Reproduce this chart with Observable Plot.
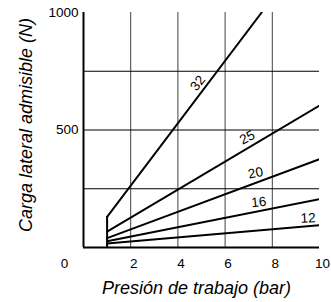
<!DOCTYPE html>
<html><head><meta charset="utf-8">
<script src="https://cdn.jsdelivr.net/npm/d3@7"></script>
<script src="https://cdn.jsdelivr.net/npm/@observablehq/plot@0.6"></script>
<style>body{margin:0;background:#fff} svg{display:block}</style>
</head><body><div id="chart"></div>
<script>
// Data
const seriesNames = ["32", "25", "20", "16", "12"];
const startPressure = [1, 1, 1, 1, 1];
const startLoad = [130, 68, 40, 27, 17];
const endPressure = [7.55, 10, 10, 10, 10];
const endLoad = [1000, 604, 376, 206, 95];
const xTicks = [2, 4, 6, 8, 10];
const xZeroTick = [0];
const yTicks = [500, 1000];
const xGrid = [2, 4, 6, 8];
const yGrid = [250, 500, 750];
const xTitle = "Presión de trabajo (bar)";
const yTitle = "Carga lateral admisible (N)";

const rows = seriesNames.flatMap((s, i) => [
  {s, p: startPressure[i], f: startLoad[i]},
  {s, p: endPressure[i], f: endLoad[i]}
]);

// label placement styling (position along each line, offset, rotation)
const labelStyle = {
  "32": {at: 4.84, dx: 0, dy: -14, rotate: -52},
  "25": {at: 6.94, dx: 0, dy: -11, rotate: -27},
  "20": {at: 7.29, dx: 0, dy: -10, rotate: -12},
  "16": {at: 7.43, dx: 0, dy: -9, rotate: -6},
  "12": {at: 9.52, dx: 0, dy: -8, rotate: -2}
};
const loadAt = (i, p) => startLoad[i] + (p - startPressure[i]) * (endLoad[i] - startLoad[i]) / (endPressure[i] - startPressure[i]);

const font = "Liberation Sans, Arial, sans-serif";
const labelMarks = seriesNames.map((s, i) => {
  const st = labelStyle[s];
  return Plot.text([{s, p: st.at, f: loadAt(i, st.at)}], {
    x: "p", y: "f", text: "s", rotate: st.rotate, dx: st.dx, dy: st.dy,
    fontSize: 13.5, fill: "#000", lineAnchor: "middle"
  });
});

const chart = Plot.plot({
  width: 331,
  height: 302,
  marginLeft: 83,
  marginRight: 12,
  marginTop: 12,
  marginBottom: 55,
  style: {fontFamily: font, fontSize: "13.5px", color: "#000", background: "#fff"},
  x: {domain: [0, 10]},
  y: {domain: [0, 1000]},
  marks: [
    Plot.ruleY(yGrid, {stroke: "#000", strokeWidth: 1}),
    Plot.ruleX(xGrid, {stroke: "#000", strokeWidth: 1, strokeOpacity: 0.75}),
    Plot.ruleX([startPressure[0]], {y1: 0, y2: startLoad[0], stroke: "#000", strokeWidth: 2}),
    Plot.line(rows, {x: "p", y: "f", z: "s", stroke: "#000", strokeWidth: 2, clip: true}),
    Plot.ruleX([0], {stroke: "#000", strokeWidth: 2}),
    Plot.ruleY([0], {stroke: "#000", strokeWidth: 2}),
    Plot.axisY(yTicks, {tickSize: 0, tickPadding: 5, fontSize: 13.5, label: null, tickFormat: d => String(d)}),
    Plot.axisX(xTicks, {tickSize: 0, tickPadding: 11, dx: 3, fontSize: 13.5, label: null, tickFormat: d => String(d)}),
    Plot.axisX(xZeroTick, {tickSize: 0, tickPadding: 11, dx: -19, fontSize: 13.5, label: null, tickFormat: d => String(d)}),
    Plot.text([xTitle], {text: d => d, frameAnchor: "bottom", textAnchor: "middle", dy: 41, dx: -5, fontSize: 18, fontStyle: "italic", lineAnchor: "middle"}),
    Plot.text([yTitle], {text: d => d, frameAnchor: "left", textAnchor: "middle", rotate: -90, dx: -57, dy: -5, fontSize: 18, fontStyle: "italic", lineAnchor: "middle"}),
    ...labelMarks
  ]
});
document.getElementById("chart").appendChild(chart);
</script>
</body></html>
